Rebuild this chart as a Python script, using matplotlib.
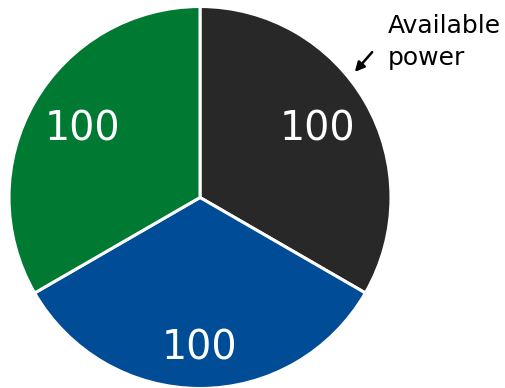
import matplotlib
matplotlib.use("Agg")
import matplotlib.pyplot as plt
import numpy as np

# Power shares per phase
labels = ["100", "100", "100"]
values = [100, 100, 100]
colors = ["#282828", "#004c97", "#007a33"]
label_radius = [0.71, 0.79, 0.71]
note_lines = ["Available", "power"]

W, H = 505, 388
fig = plt.figure(figsize=(W / 100, H / 100), dpi=100)
ax = fig.add_axes([0, 0, 1, 1])

cx, cy, r = 200, 190.5, 191
wedges, _ = ax.pie(values, colors=colors, startangle=90, counterclock=False,
                   center=(cx, cy), radius=r, frame=True,
                   wedgeprops=dict(edgecolor="white", linewidth=2.2))
ax.set_xlim(0, W)
ax.set_ylim(0, H)
ax.set_aspect("equal")
ax.axis("off")

for w, lab, lr in zip(wedges, labels, label_radius):
    ang = np.deg2rad((w.theta1 + w.theta2) / 2)
    ax.text(cx + lr * r * np.cos(ang), cy + lr * r * np.sin(ang), lab,
            color="white", fontsize=28.5, ha="center", va="center",
            family="DejaVu Sans")

ax.annotate("", xy=(353, H - 74), xytext=(374, H - 50),
            arrowprops=dict(arrowstyle="-|>", color="black", lw=1.8,
                            mutation_scale=14))
for i, line in enumerate(note_lines):
    ax.text(388, H - 33 - 32 * i, line, fontsize=18, ha="left",
            va="baseline", family="DejaVu Sans")

fig.savefig("out.png", dpi=100)
